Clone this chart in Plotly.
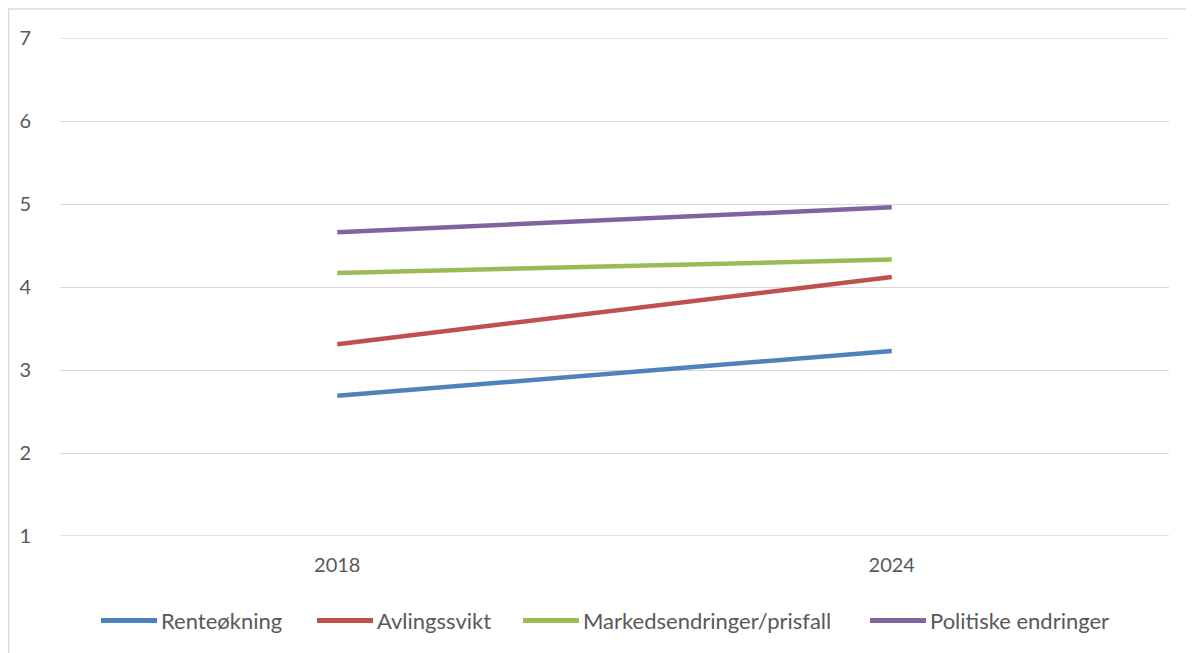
import plotly.graph_objects as go

categories = ["2018", "2024"]
series_names = ["Renteøkning", "Avlingssvikt", "Markedsendringer/prisfall", "Politiske endringer"]
renteokning = [2.69, 3.23]
avlingssvikt = [3.31, 4.12]
markedsendringer = [4.17, 4.33]
politiske = [4.66, 4.96]
colors = ["#4F81BD", "#C0504D", "#9BBB59", "#8064A2"]
y_ticks = [1, 2, 3, 4, 5, 6, 7]

FONT = "Lato, Open Sans, sans-serif"
TXT = "#595959"
GRID = "#D9D9D9"

# page is rendered with an 8px body margin
W, H = 1186, 645
ML, MR, MT, MB = 52, 25, 30, 117
PW, PH = W - ML - MR, H - MT - MB


def px(page_x):
    return (page_x - 8 - ML) / PW


def py(page_y):
    return 1 - (page_y - 8 - MT) / PH


fig = go.Figure()
for name, vals, col in zip(series_names, [renteokning, avlingssvikt, markedsendringer, politiske], colors):
    fig.add_trace(go.Scatter(x=categories, y=vals, name=name, mode="lines",
                             line=dict(color=col, width=4.5), showlegend=False))

shapes = [dict(type="rect", xref="paper", yref="paper",
               x0=px(8.6), x1=1.2, y0=-0.5, y1=py(9),
               line=dict(color=GRID, width=1.3), fillcolor="rgba(0,0,0,0)", layer="below")]
# edge gridlines (plotly omits grid lines lying on the plot boundary)
for yv in (y_ticks[0], y_ticks[-1]):
    shapes.append(dict(type="line", xref="paper", yref="y", x0=0, x1=1, y0=yv, y1=yv,
                       line=dict(color=GRID, width=1.3), layer="below"))
annotations = []

# manual legend
leg_line_x0 = [101, 317, 523, 870]
leg_y = 620.5
for name, col, x0 in zip(series_names, colors, leg_line_x0):
    shapes.append(dict(type="line", xref="paper", yref="paper",
                       x0=px(x0), x1=px(x0 + 56), y0=py(leg_y), y1=py(leg_y),
                       line=dict(color=col, width=5)))
    annotations.append(dict(text=name, xref="paper", yref="paper", x=px(x0 + 58), y=py(leg_y),
                            xanchor="left", yanchor="middle", showarrow=False,
                            font=dict(family=FONT, size=22, color=TXT)))

fig.update_layout(
    width=W, height=H,
    margin=dict(l=ML, r=MR, t=MT, b=MB),
    paper_bgcolor="white", plot_bgcolor="white",
    font=dict(family=FONT, color=TXT, size=20),
    showlegend=False,
    xaxis=dict(type="category", range=[-0.5, 1.5], showgrid=False, zeroline=False,
               showline=False, ticks="outside", ticklen=11, tickcolor="rgba(0,0,0,0)",
               tickfont=dict(size=20, color=TXT, family=FONT)),
    yaxis=dict(range=[1, 7], tickvals=y_ticks, showgrid=True, gridcolor=GRID, gridwidth=1.3,
               zeroline=False, showline=False, ticks="outside", ticklen=24,
               tickcolor="rgba(0,0,0,0)", tickfont=dict(size=20, color=TXT, family=FONT)),
    shapes=shapes,
    annotations=annotations,
)

fig.write_html("out.html")
